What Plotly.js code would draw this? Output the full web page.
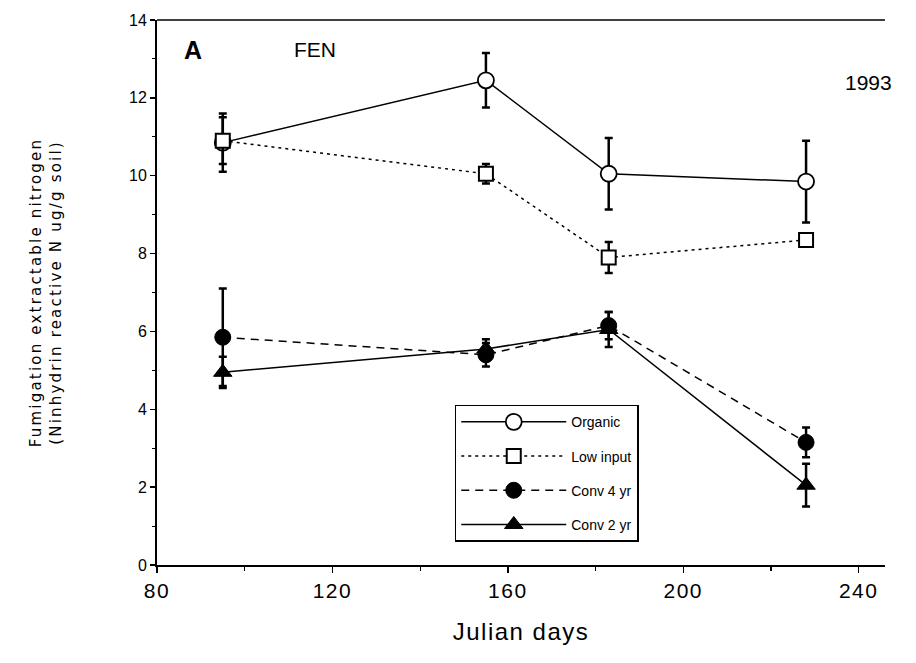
<!DOCTYPE html>
<html>
<head>
<meta charset="utf-8">
<script src="https://cdn.plot.ly/plotly-3.0.1.min.js"></script>
<style>
html,body{margin:0;padding:0;background:#fff;}
#chart{width:916px;height:663px;}
#chart .ytitle{letter-spacing:2.2px;}
#chart .xtitle{letter-spacing:1.5px;}
#chart .xtick text{letter-spacing:1.5px;}
</style>
</head>
<body>
<div id="chart"></div>
<script>
// Julian days of sampling
const days = [95, 155, 183, 228];
// Series values (ug N / g soil) and error bar half-lengths
const organic = [10.85, 12.45, 10.05, 9.85];
const organicErr = [0.75, 0.7, 0.92, 1.05];
const lowInput = [10.9, 10.05, 7.9, 8.35];
const lowInputErr = [0.6, 0.25, 0.4, 0.12];
const conv4 = [5.85, 5.4, 6.15, 3.15];
const conv4Err = [1.25, 0.3, 0.35, 0.38];
const conv2 = [4.95, 5.55, 6.05, 2.05];
const conv2Err = [0.4, 0.25, 0.45, 0.55];
const seriesNames = ["Organic", "Low input", "Conv 4 yr", "Conv 2 yr"];
const xTicks = [80, 120, 160, 200, 240];
const yTicks = [0, 2, 4, 6, 8, 10, 12, 14];

const narrow = "Liberation Sans Narrow, Liberation Sans, Arial, sans-serif";
const sans = "Liberation Sans, Arial, sans-serif";

function errBar(arr) {
  return {type: "data", array: arr, visible: true, color: "black", thickness: 2.5, width: 4};
}

const traces = [
  {x: days, y: organic, name: seriesNames[0], type: "scatter", mode: "lines+markers",
   line: {color: "black", width: 1.5, dash: "solid"},
   marker: {symbol: "circle", size: 16, color: "white", line: {color: "black", width: 1.8}},
   error_y: errBar(organicErr), legendgroup: "a"},
  {x: days, y: lowInput, name: seriesNames[1], type: "scatter", mode: "lines+markers",
   line: {color: "black", width: 1.5, dash: "3px,4px"},
   marker: {symbol: "square", size: 14, color: "white", line: {color: "black", width: 2}},
   error_y: errBar(lowInputErr), legendgroup: "b"},
  {x: days, y: conv4, name: seriesNames[2], type: "scatter", mode: "lines+markers",
   line: {color: "black", width: 1.5, dash: "8px,6px"},
   marker: {symbol: "circle", size: 16, color: "black", line: {color: "black", width: 1}},
   error_y: errBar(conv4Err), legendgroup: "c"},
  {x: days, y: conv2, name: seriesNames[3], type: "scatter", mode: "lines+markers",
   line: {color: "black", width: 1.5, dash: "solid"},
   marker: {symbol: "triangle-up", size: 16, color: "black", line: {color: "black", width: 1}},
   error_y: errBar(conv2Err), legendgroup: "d"}
];

const layout = {
  width: 916, height: 663,
  margin: {l: 157, r: 31, t: 20, b: 98},
  paper_bgcolor: "white", plot_bgcolor: "white",
  showlegend: true,
  legend: {
    x: 0.409, y: 0.294, xanchor: "left", yanchor: "top",
    bgcolor: "white", bordercolor: "black", borderwidth: 1.5,
    font: {family: narrow, size: 14, color: "black"},
    traceorder: "grouped", tracegroupgap: 13, itemwidth: 105
  },
  xaxis: {
    range: [80, 246], tickvals: xTicks, ticktext: xTicks.map(String),
    showgrid: false, zeroline: false, showline: true, linecolor: "black", linewidth: 1.5,
    ticks: "outside", ticklen: 6, tickwidth: 1.5, tickcolor: "black",
    minor: {dtick: 20, tick0: 80, ticks: "outside", ticklen: 4, tickwidth: 1.2, tickcolor: "black"},
    tickfont: {family: narrow, size: 21, color: "black"},
    title: {text: "Julian days", font: {family: narrow, size: 24, color: "black"}, standoff: 22}
  },
  yaxis: {
    range: [0, 14], tickvals: yTicks, ticktext: yTicks.map(String),
    showgrid: false, zeroline: false, showline: true, linecolor: "black", linewidth: 2,
    ticks: "outside", ticklen: 5, tickwidth: 1.5, tickcolor: "black",
    minor: {dtick: 1, tick0: 0, ticks: "outside", ticklen: 3, tickwidth: 1, tickcolor: "black"},
    tickfont: {family: sans, size: 16, color: "black"},
    title: {text: "Fumigation extractable nitrogen<br>(Ninhydrin reactive N ug/g soil)",
            font: {family: "DejaVu Sans, sans-serif", size: 15, color: "black"}, standoff: 64}
  },
  shapes: [
    {type: "line", xref: "paper", yref: "paper", x0: 0, x1: 1, y0: 1, y1: 1,
     line: {color: "black", width: 1.5}}
  ],
  annotations: [
    {text: "<b>A</b>", xref: "paper", yref: "paper", x: 0.05, y: 0.945, showarrow: false,
     xanchor: "center", yanchor: "middle", font: {family: sans, size: 25, color: "black"}},
    {text: "FEN", xref: "paper", yref: "paper", x: 0.217, y: 0.945, showarrow: false,
     xanchor: "center", yanchor: "middle", font: {family: sans, size: 21, color: "black"}},
    {text: "1993", xref: "paper", yref: "paper", x: 0.977, y: 0.886, showarrow: false,
     xanchor: "center", yanchor: "middle", font: {family: sans, size: 21, color: "black"}}
  ]
};

Plotly.newPlot("chart", traces, layout, {displayModeBar: false, staticPlot: true});
</script>
</body>
</html>
